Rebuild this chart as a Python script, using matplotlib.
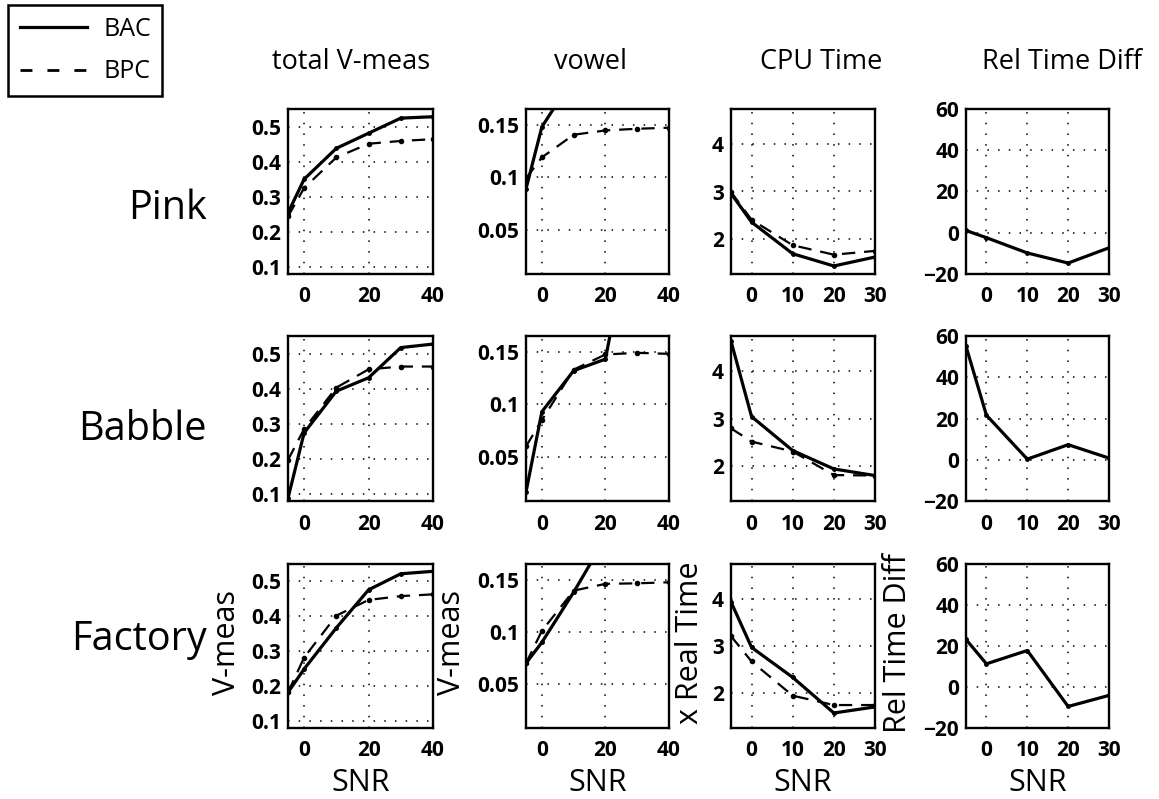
import numpy as np
import matplotlib.pyplot as plt
from matplotlib.lines import Line2D

plt.rcParams['font.family'] = ['Open Sans', 'DejaVu Sans']

# SNR values for each panel type
snr_vm = [-5, 0, 10, 20, 30, 40]
snr_cpu = [-5, 0, 10, 20, 30]

noise_types = ['Pink', 'Babble', 'Factory']
col_titles = ['total V-meas', 'vowel', 'CPU Time', 'Rel Time Diff']
bottom_ylabels = ['V-meas', 'V-meas', 'x Real Time', 'Rel Time Diff']

# total V-measure
total_bac = {
    'Pink':    [0.254, 0.350, 0.438, 0.481, 0.524, 0.528],
    'Babble':  [0.088, 0.274, 0.393, 0.431, 0.517, 0.527],
    'Factory': [0.182, 0.249, 0.367, 0.476, 0.522, 0.529],
}
total_bpc = {
    'Pink':    [0.244, 0.325, 0.412, 0.451, 0.459, 0.464],
    'Babble':  [0.197, 0.285, 0.403, 0.455, 0.463, 0.463],
    'Factory': [0.182, 0.282, 0.402, 0.447, 0.458, 0.463],
}

# vowel V-measure (BAC runs off the top of the panel)
vowel_bac = {
    'Pink':    [0.089, 0.148, 0.195, 0.215, 0.225, 0.230],
    'Babble':  [0.0165, 0.093, 0.132, 0.143, 0.300, 0.310],
    'Factory': [0.070, 0.090, 0.138, 0.190, 0.215, 0.225],
}
vowel_bpc = {
    'Pink':    [0.099, 0.119, 0.1405, 0.1446, 0.1462, 0.1472],
    'Babble':  [0.060, 0.085, 0.133, 0.1474, 0.149, 0.148],
    'Factory': [0.070, 0.101, 0.1395, 0.146, 0.1465, 0.1475],
}

# CPU time (x real time)
cpu_bac = {
    'Pink':    [2.96, 2.35, 1.68, 1.42, 1.61],
    'Babble':  [4.64, 3.04, 2.32, 1.93, 1.79],
    'Factory': [3.94, 2.97, 2.33, 1.57, 1.70],
}
cpu_bpc = {
    'Pink':    [2.99, 2.40, 1.86, 1.66, 1.74],
    'Babble':  [2.79, 2.51, 2.30, 1.80, 1.79],
    'Factory': [3.21, 2.67, 1.94, 1.74, 1.74],
}

# relative time difference (%)
rel_diff = {
    'Pink':    [1.1, -2.4, -9.8, -14.7, -7.3],
    'Babble':  [55.0, 21.6, 0.3, 7.3, 0.8],
    'Factory': [23.2, 11.3, 17.8, -9.5, -4.1],
}

W, H = 1159, 799
fig = plt.figure(figsize=(W / 100, H / 100), dpi=100)

col_x = [(288, 433), (526, 669), (731, 875), (966, 1109)]
row_y = [(109, 274), (336, 501), (564, 728)]

solid = dict(color='black', lw=2.3, marker='.', ms=5)
dashed = dict(color='black', lw=1.6, ls=(0, (6, 4)), marker='.', ms=6)

ylims = [(0.08, 0.55), (0.008, 0.165), (1.25, 4.75), (-20, 60)]
yticks = [[0.1, 0.2, 0.3, 0.4, 0.5], [0.05, 0.1, 0.15], [2, 3, 4], [-20, 0, 20, 40, 60]]
yticklabels = [['0.1', '0.2', '0.3', '0.4', '0.5'], ['0.05', '0.1', '0.15'],
               ['2', '3', '4'], ['\u221220', '0', '20', '40', '60']]
ylab_x = [-0.32, -0.41, -0.18, -0.37]

for r, noise in enumerate(noise_types):
    for c in range(4):
        x0, x1 = col_x[c]
        y0, y1 = row_y[r]
        ax = fig.add_axes([x0 / W, 1 - y1 / H, (x1 - x0) / W, (y1 - y0) / H])
        if c == 0:
            ax.plot(snr_vm, total_bac[noise], **solid)
            ax.plot(snr_vm, total_bpc[noise], **dashed)
        elif c == 1:
            ax.plot(snr_vm, vowel_bac[noise], **solid)
            ax.plot(snr_vm, vowel_bpc[noise], **dashed)
        elif c == 2:
            ax.plot(snr_cpu, cpu_bac[noise], **solid)
            ax.plot(snr_cpu, cpu_bpc[noise], **dashed)
        else:
            ax.plot(snr_cpu, rel_diff[noise], **solid)

        if c < 2:
            ax.set_xlim(-5, 40)
            ax.set_xticks([0, 20, 40])
        else:
            ax.set_xlim(-5, 30)
            ax.set_xticks([0, 10, 20, 30])
        ax.set_ylim(*ylims[c])
        ax.set_yticks(yticks[c])
        ax.set_yticklabels(yticklabels[c])
        ax.grid(True, color='black', ls=(0, (1, 6)), lw=1.1)
        ax.tick_params(length=0, labelsize=15, pad=5)
        ax.tick_params(axis='x', pad=9)
        for lab in ax.get_xticklabels() + ax.get_yticklabels():
            lab.set_fontweight('bold')
        for s in ax.spines.values():
            s.set_linewidth(1.7)

        if r == 2:
            ax.set_xlabel('SNR', fontsize=22)
            ax.xaxis.set_label_coords(0.5, -0.245)
            ax.set_ylabel(bottom_ylabels[c], fontsize=22)
            ax.yaxis.set_label_coords(ylab_x[c], 0.52)

# column titles
for cx, t in zip([351, 590, 821, 1062], col_titles):
    fig.text(cx / W, 1 - 62 / H, t, fontsize=19.5, ha='center', va='center')

# row labels
for cy, noise in zip([209, 430, 640], noise_types):
    fig.text(207 / W, 1 - cy / H, noise, fontsize=28.5, ha='right', va='center')

handles = [Line2D([], [], color='black', lw=2.3),
           Line2D([], [], color='black', lw=2.0, ls=(0, (4.3, 5.4)))]
leg = fig.legend(handles, ['BAC', 'BPC'], loc='upper left',
                 bbox_to_anchor=(8 / W, 1 - 5 / H), fontsize=18, frameon=True,
                 fancybox=False, edgecolor='black', handlelength=2.7,
                 borderpad=0.46, labelspacing=0.72, borderaxespad=0,
                 handletextpad=0.64, framealpha=1)
leg.get_frame().set_linewidth(1.8)

fig.savefig('out.png', dpi=100)
